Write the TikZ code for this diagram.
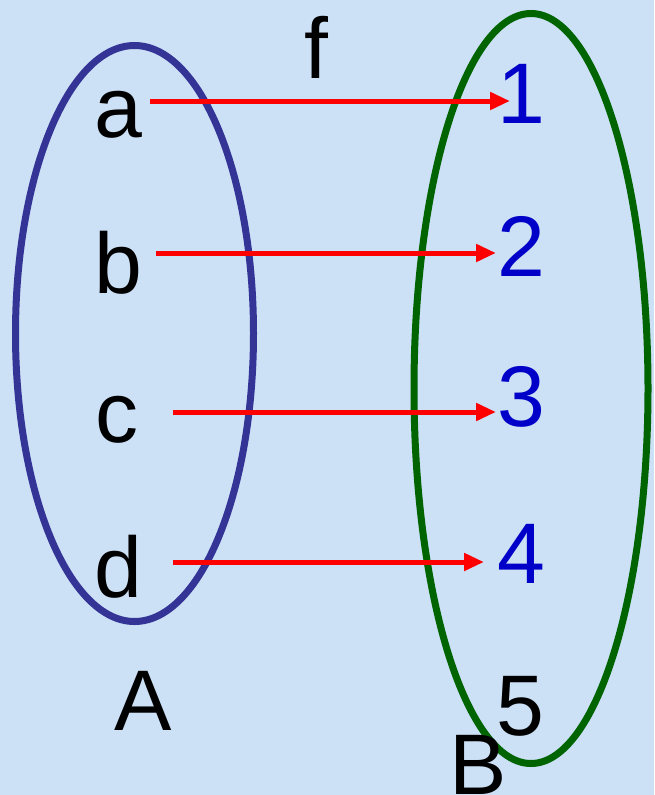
\documentclass[tikz,border=0pt]{standalone}
\usepackage{fontspec}
\setmainfont{Liberation Sans}
\usetikzlibrary{arrows.meta}
\definecolor{bgblue}{RGB}{204,224,246}
\definecolor{setA}{RGB}{52,52,150}
\definecolor{setB}{RGB}{0,100,0}
\definecolor{numblue}{RGB}{0,0,200}
\tikzset{
  lbl/.style={anchor=base, inner sep=0pt, font=\fontsize{86}{86}\selectfont},
  num/.style={lbl, text=numblue},
  setline/.style={line width=7pt},
  maparrow/.style={red, line width=5pt, -{Triangle[length=20pt,width=17pt]}}
}
\begin{document}
\begin{tikzpicture}[x=1pt,y=-1pt]
\fill[bgblue] (0,0) rectangle (654,795);
\useasboundingbox (0,0) rectangle (654,795);
\draw[setline, setA] (134.5,333.5) ellipse [x radius=119, y radius=288];
\draw[setline, setB] (531,388.5) ellipse [x radius=117, y radius=375];
\node[lbl] (a) at (118,137) {a};
\node[lbl] (b) at (118,293) {b};
\node[lbl] (c) at (117,442) {c};
\node[lbl] (d) at (118,597) {d};
\node[lbl] (A) at (143,730) {A};
\node[lbl] (f) at (316,78) {f};
\node[num] (n1) at (521,123) {1};
\node[num] (n2) at (521,276) {2};
\node[num] (n3) at (521,426) {3};
\node[num] (n4) at (521,583) {4};
\node[lbl] (n5) at (520,735) {5};
\node[lbl] (B) at (478,794) {B};
\coordinate (sa) at (150,101); \coordinate (ea) at (510,101);
\coordinate (sb) at (156,253); \coordinate (eb) at (496,253);
\coordinate (sc) at (173,412); \coordinate (ec) at (496,412);
\coordinate (sd) at (173,562); \coordinate (ed) at (484,562);
\draw[maparrow] (sa) -- (ea);
\draw[maparrow] (sb) -- (eb);
\draw[maparrow] (sc) -- (ec);
\draw[maparrow] (sd) -- (ed);
\end{tikzpicture}
\end{document}
